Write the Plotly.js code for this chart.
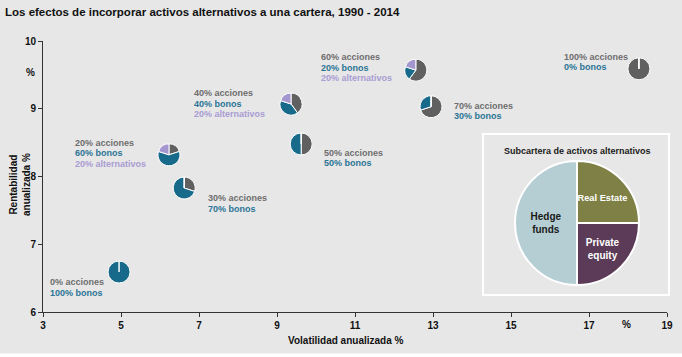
<!DOCTYPE html>
<html>
<head>
<meta charset="utf-8">
<script src="https://cdn.plot.ly/plotly-3.0.1.min.js"></script>
<style>html,body{margin:0;padding:0;background:#fff}#chart{width:682px;height:357px}</style>
</head>
<body>
<div id="chart"></div>
<script>
// ---- data ----
const acciones     = [0, 20, 30, 40, 50, 60, 70, 100];
const bonos        = [100, 60, 70, 40, 50, 20, 30, 0];
const alternativos = [0, 20, 0, 20, 0, 20, 0, 0];
const volatilidad  = [4.95, 6.23, 6.62, 9.36, 9.62, 12.56, 12.95, 18.28];
const rentabilidad = [6.59, 8.32, 7.83, 9.07, 8.48, 9.57, 9.03, 9.59];
const xTicks = [3, 5, 7, 9, 11, 13, 15, 17, 19];
const yTicks = [6, 7, 8, 9, 10];
const subLabels = ['Real Estate', 'Private equity', 'Hedge funds'];
const subText = ['Real Estate', 'Private<br>equity', 'Hedge<br>funds'];
const subValues = [25, 25, 50];

// ---- styles / label placement (pixels, relative to each pie centre) ----
const labelDx = [-71, -96, 22, -99, 21, -97, 21, -77];
const labelDy0 = [-10, 12, -10, 11, -9, 13, 1, 12];
const lineGap = 10.5;
const C_ACC = '#606060', C_BON = '#176a8a', C_ALT = '#a496cf';
const T_ACC = '#6e6e6e', T_BON = '#2a7595', T_ALT = '#a99cd3';
const pieR = 11;
const BG = '#e7e7e7';
const M = {l: 43, r: 15, t: 41, b: 45};
const W = 682, H = 357;
const pw = W - M.l - M.r, ph = H - M.t - M.b;
const px2x = p => (p - M.l) / pw;
const px2y = p => (H - M.b - p) / ph;

const lblFamily = 'Liberation Sans, Arial, sans-serif';
const tickFont = {family: lblFamily, size: 10, color: '#111', weight: 700};

const annotations = [];
for (let i = 0; i < acciones.length; i++) {
  const lines = [[acciones[i] + '% acciones', T_ACC], [bonos[i] + '% bonos', T_BON]];
  if (alternativos[i] > 0) lines.push([alternativos[i] + '% alternativos', T_ALT]);
  lines.forEach((ln, k) => {
    annotations.push({
      x: volatilidad[i], y: rentabilidad[i], xref: 'x', yref: 'y',
      text: ln[0], showarrow: false, xanchor: 'left', yanchor: 'middle',
      xshift: labelDx[i], yshift: labelDy0[i] - k * lineGap,
      font: {family: lblFamily, size: 9, color: ln[1], weight: 700}
    });
  });
}
// axis titles and units
annotations.push({xref: 'paper', yref: 'paper', x: px2x(346), y: px2y(340), text: 'Volatilidad anualizada %',
  showarrow: false, xanchor: 'center', yanchor: 'middle', font: tickFont});
annotations.push({xref: 'paper', yref: 'paper', x: px2x(20), y: px2y(185), text: 'Rentabilidad<br>anualizada %',
  textangle: -90, showarrow: false, xanchor: 'center', yanchor: 'middle', font: tickFont});
annotations.push({xref: 'x', yref: 'paper', x: 17.96, y: px2y(324), text: '%', showarrow: false,
  xanchor: 'center', yanchor: 'middle', font: tickFont});
annotations.push({xref: 'paper', yref: 'y', x: px2x(30), y: 9.54, text: '%', showarrow: false,
  xanchor: 'center', yanchor: 'middle', font: tickFont});
annotations.push({xref: 'paper', yref: 'paper', x: px2x(577), y: px2y(151), text: 'Subcartera de activos alternativos',
  showarrow: false, xanchor: 'center', yanchor: 'middle',
  font: {family: lblFamily, size: 9, color: '#1a1a1a', weight: 700}});

const layout = {
  width: W, height: H, margin: M,
  paper_bgcolor: BG, plot_bgcolor: BG,
  title: {text: '<b>Los efectos de incorporar activos alternativos a una cartera, 1990 - 2014</b>',
    xref: 'container', yref: 'container', x: 5 / W, xanchor: 'left', y: 1 - 12 / H, yanchor: 'middle',
    font: {family: lblFamily, size: 11.5, color: '#111'}},
  showlegend: false,
  xaxis: {range: [3, 19], tickvals: xTicks, showline: true, linecolor: '#333', linewidth: 1,
    ticks: 'outside', ticklen: 4, tickcolor: '#333', showgrid: false, zeroline: false,
    tickfont: tickFont, fixedrange: true},
  yaxis: {range: [6, 10], tickvals: yTicks, showline: true, linecolor: '#333', linewidth: 1,
    ticks: 'outside', ticklen: 4, tickcolor: '#333', showgrid: false, zeroline: false,
    tickfont: tickFont, fixedrange: true},
  annotations: annotations,
  shapes: [
    {type: 'rect', xref: 'paper', yref: 'paper', x0: px2x(483), x1: px2x(669), y0: px2y(295), y1: px2y(134),
      line: {color: '#ffffff', width: 2}, fillcolor: 'rgba(0,0,0,0)', layer: 'below'},
    {type: 'rect', xref: 'paper', yref: 'paper', x0: px2x(-2), x1: px2x(W + 2), y0: px2y(H + 2), y1: px2y(353.5),
      line: {width: 0}, fillcolor: '#ffffff', layer: 'above'}
  ]
};

const base = [{type: 'scatter', mode: 'markers', x: volatilidad, y: rentabilidad,
  marker: {size: 1, opacity: 0}, hoverinfo: 'skip'}];

const gd = document.getElementById('chart');
Plotly.newPlot(gd, base, layout, {displayModeBar: false, staticPlot: true}).then(() => {
  const xa = gd._fullLayout.xaxis, ya = gd._fullLayout.yaxis;
  const traces = base.slice();
  for (let i = 0; i < acciones.length; i++) {
    const fx = xa.l2p(volatilidad[i]) / xa._length;
    const fy = 1 - ya.l2p(rentabilidad[i]) / ya._length;
    const dx = pieR / xa._length, dy = pieR / ya._length;
    traces.push({
      type: 'pie', values: [acciones[i], bonos[i], alternativos[i]],
      labels: ['acciones', 'bonos', 'alternativos'],
      marker: {colors: [C_ACC, C_BON, C_ALT], line: {color: '#ffffff', width: 1}},
      sort: false, direction: 'clockwise', rotation: 0, textinfo: 'none', hoverinfo: 'skip',
      domain: {x: [fx - dx, fx + dx], y: [fy - dy, fy + dy]}, showlegend: false
    });
  }
  traces.push({
    type: 'pie', values: subValues, labels: subLabels, text: subText,
    marker: {colors: ['#7e8045', '#5b3b57', '#b5ced4'], line: {color: '#ffffff', width: 2}},
    sort: false, direction: 'clockwise', rotation: 0, textinfo: 'text', textposition: 'inside',
    insidetextorientation: 'horizontal',
    textfont: {family: lblFamily, size: 10, color: ['#ffffff', '#ffffff', '#1a1a1a'], weight: 700},
    hoverinfo: 'skip', showlegend: false,
    domain: {x: [px2x(515), px2x(639)], y: [px2y(285), px2y(161)]}
  });
  return Plotly.react(gd, traces, layout, {displayModeBar: false, staticPlot: true});
});
</script>
</body>
</html>
